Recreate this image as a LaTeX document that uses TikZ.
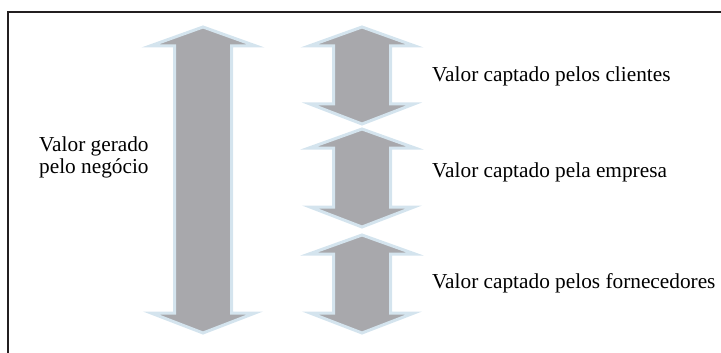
\documentclass[tikz,border=0pt]{standalone}
\usepackage{fontspec}
\setmainfont{Liberation Serif}
\usepackage{tikz}
\usetikzlibrary{calc}
\definecolor{arrowgray}{RGB}{168,168,172}
\definecolor{arrowedge}{RGB}{212,228,238}
\definecolor{framegray}{RGB}{35,31,32}
\newcommand{\dblarrow}[3]{\filldraw[fill=arrowgray, draw=arrowedge, line width=3pt] ( #1 , #2 ) -- ( #1 + 53 , #2 + 19 ) -- ( #1 + 28.5 , #2 + 19 ) -- ( #1 + 28.5 , #3 - 20 ) -- ( #1 + 52 , #3 - 20 ) -- ( #1 , #3 ) -- ( #1 - 52 , #3 - 20 ) -- ( #1 - 28.5 , #3 - 20 ) -- ( #1 - 28.5 , #2 + 19 ) -- ( #1 - 53 , #2 + 19 ) -- cycle;}
\newcommand{\lablnode}[4]{\node[anchor=base west, inner sep=0pt, align=left, font=\fontsize{21.3}{22}\selectfont] (#1) at ( #2 , #3 ) {#4};}

\begin{document}
\begin{tikzpicture}[x=1pt, y=-1pt]
        \useasboundingbox (0,0) rectangle (721,353);
        \draw[framegray, line width=2.8pt] (8,360) -- (8,12) -- (730,12);

        \dblarrow{203}{27}{333}
        \dblarrow{362}{27}{124}
        \dblarrow{362}{129}{227}
        \dblarrow{362}{235}{333}

        \lablnode{gerado}{39}{173}{Valor gerado\\pelo negócio}
        \lablnode{clientes}{432}{82}{Valor captado pelos clientes}
        \lablnode{empresa}{432}{177}{Valor captado pela empresa}
        \lablnode{fornec}{432}{288}{Valor captado pelos fornecedores}
    \end{tikzpicture}
\end{document}
